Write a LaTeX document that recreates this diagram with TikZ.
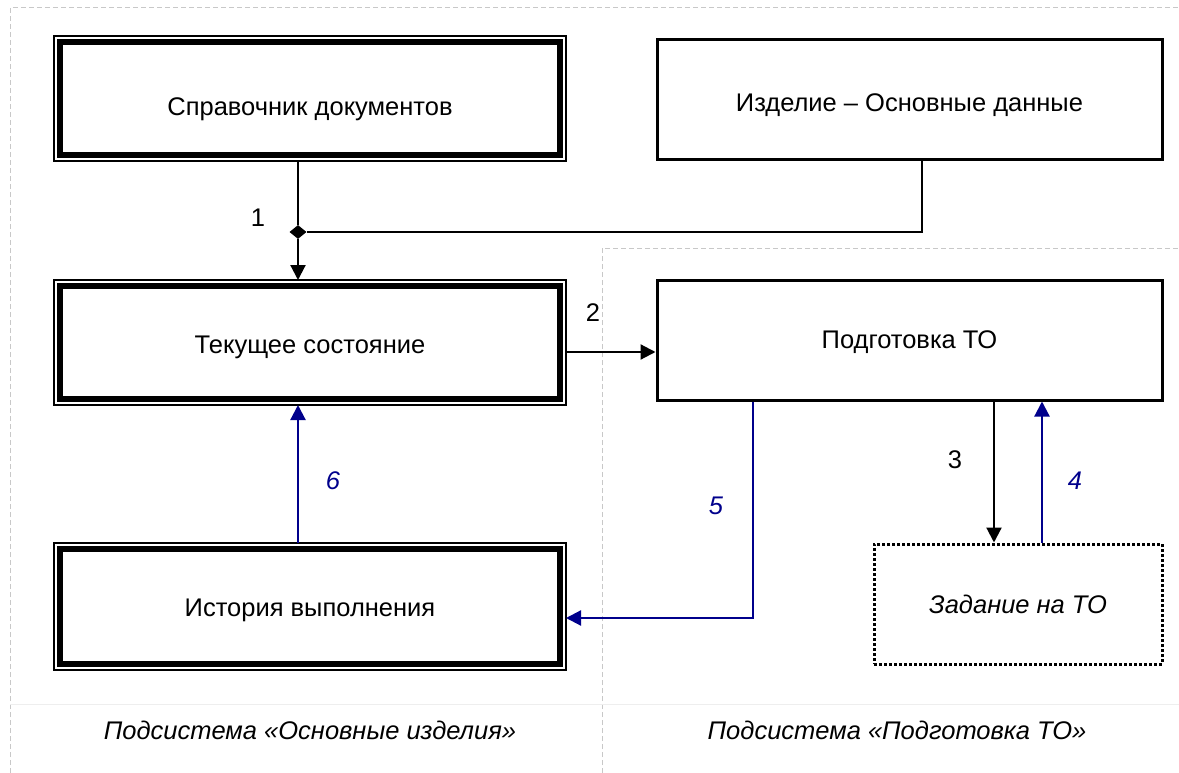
\documentclass[tikz,border=0pt]{standalone}
\usepackage{fontspec}
\setmainfont{Liberation Sans}
\usetikzlibrary{arrows.meta,shapes.geometric}
\definecolor{navyblue}{RGB}{0,0,140}
\definecolor{gridgray}{RGB}{200,200,200}
\definecolor{faintgray}{RGB}{238,238,238}
\newcommand{\lowtxt}[2]{\smash{\raisebox{-#1}{#2}}}
\begin{document}
\begin{tikzpicture}[x=1pt,y=-1pt,
  font=\fontsize{25.5}{30}\selectfont,
  dbox/.style={draw, line width=6pt, minimum width=500pt, inner sep=0pt, outer sep=6pt},
  sbox/.style={draw, line width=3pt, minimum width=505pt, minimum height=120pt, inner sep=0pt},
  dotbox/.style={draw, line width=3pt, dash pattern=on 2.6pt off 2.4pt, minimum width=288pt, minimum height=120pt, inner sep=0pt, font=\fontsize{25.5}{30}\selectfont\itshape},
  thinframe/.style={line width=1.3pt},
  conn/.style={line width=2.2pt},
  arr/.style={conn, -{Triangle[length=15pt,width=15pt]}},
  bluearr/.style={arr, navyblue},
  gridline/.style={gridgray, line width=1pt, dash pattern=on 5pt off 3pt},
  faintline/.style={faintgray, line width=1pt},
  num/.style={inner sep=0pt},
  bluenum/.style={num, navyblue, font=\fontsize{25.5}{30}\selectfont\itshape},
  caption/.style={inner sep=0pt, font=\fontsize{25.5}{30}\selectfont\itshape}
]
\useasboundingbox (0,0) rectangle (1179,773);
\fill[white] (0,0) rectangle (1179,773);

% subsystem borders
\draw[gridline] (10,773) -- (10,8) -- (1179,8);
\draw[gridline] (602,773) -- (602,248) -- (1179,248);
\draw[faintline] (10,704) -- (1179,704);

% boxes
\node[dbox, minimum height=113pt] (sprav) at (310,98.5) {\lowtxt{17.5pt}{Справочник документов}};
\node[dbox, minimum height=113pt] (tek) at (310,342.5) {\lowtxt{11pt}{Текущее состояние}};
\node[dbox, minimum height=115pt] (ist) at (310,606.5) {\lowtxt{10pt}{История выполнения}};
\foreach \n in {sprav,tek,ist}
  \draw[thinframe] (\n.north west) rectangle (\n.south east);

\node[sbox] (izd) at (909.5,100) {\lowtxt{11.5pt}{Изделие – Основные данные}};
\node[sbox] (podg) at (909.5,340) {\lowtxt{8.5pt}{Подготовка ТО}};
\node[dotbox] (zad) at (1018,604) {\lowtxt{9.5pt}{Задание на ТО}};

% connector 1
\node[diamond, fill=black, inner sep=0pt, minimum width=17pt, minimum height=14pt] (j) at (298,232) {};
\draw[conn] ([xshift=-12pt]sprav.south) -- (j.north);
\draw[arr] (j.south) -- ([xshift=-12pt]tek.north);
\draw[conn] ([xshift=12.5pt]izd.south) |- (j.east);
\node[num] (l1) at (258,218) {1};

% connector 2
\draw[arr] ([yshift=-9.5pt]tek.east) -- ([yshift=-9.5pt]tek.east -| podg.west);
\node[num] (l2) at (593,313) {2};

% connector 3 and 4
\draw[arr] ([xshift=84.5pt]podg.south) -- ([xshift=84.5pt]podg.south |- zad.north);
\node[num] (l3) at (955,460) {3};
\draw[bluearr] ([xshift=132.5pt]podg.south |- zad.north) -- ([xshift=132.5pt]podg.south);
\node[bluenum] (l4) at (1075,481) {4};

% connector 5
\draw[bluearr] ([xshift=-156.5pt]podg.south) |- ([yshift=-11.5pt]ist.east);
\node[bluenum] (l5) at (716,506) {5};

% connector 6
\draw[bluearr] ([xshift=-12pt]ist.north) -- ([xshift=-12pt]tek.south);
\node[bluenum] (l6) at (333,481) {6};

% captions
\node[caption] (cap1) at (310,730) {Подсистема «Основные изделия»};
\node[caption] (cap2) at (897,730) {Подсистема «Подготовка ТО»};
\end{tikzpicture}
\end{document}
